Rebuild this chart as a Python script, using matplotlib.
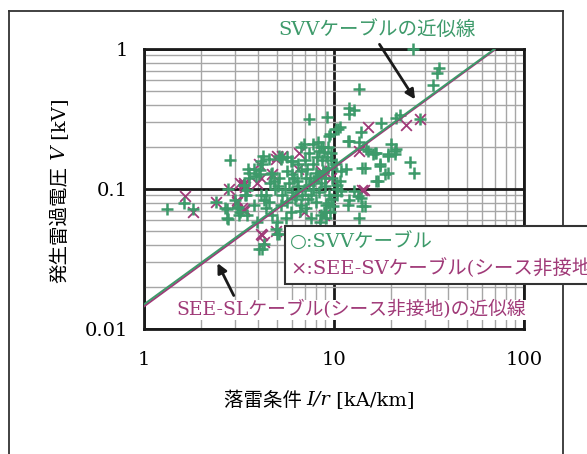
"""
Lightning overvoltage vs. lightning condition I/r (log-log scatter)
"""

import matplotlib as mpl
mpl.use('Agg')
import matplotlib.pyplot as plt
from matplotlib.lines import Line2D
from matplotlib.patches import Rectangle

# colours
green = "#3d9a6a"
magenta = "#a03a78"

# SVV cable points (I/r [kA/km], V [kV])
svv_x = [26, 35.6, 34.7, 33.3, 13.5, 12.0, 12.8, 12.0, 7.4, 9.2, 10.7, 9.5, 13.8, 17.7,
         21.3, 22.2, 28.3, 12.0, 20.0, 21.3, 20.9, 19.3, 15.1, 16.7, 25.0, 26.4, 14.5, 17.4,
         18.5, 19.3, 17.0, 2.83, 1.32,
         1.63, 1.80, 2.77, 2.40, 2.72, 2.77, 3.13, 3.15, 3.22, 3.38, 3.49, 3.46, 3.95, 4.03,
         3.52, 3.87, 4.03, 4.11, 4.25, 4.08, 4.55, 4.74, 5.25, 5.69, 6.04, 6.43, 6.69, 6.96,
         7.40, 8.20, 8.36, 8.71, 10.5, 3.56, 3.35, 3.42,
         4.19, 3.79, 3.56, 5.13, 5.35, 5.93, 7.71, 8.53, 9.44, 10.2, 11.8,
         4.64, 4.83, 5.13, 5.69, 6.16, 6.69, 7.11, 7.40, 7.87, 8.2, 8.71, 9.27, 10.2, 10.4,
         10.9, 11.5,
         2.68, 2.74, 3.03, 3.09, 3.49, 3.79, 4.11, 4.27, 4.36, 4.55, 4.74, 5.04, 5.25, 5.69,
         5.93, 6.3, 6.69, 7.11, 7.56, 8.03, 8.53, 8.86, 9.27,
         4.27, 4.93, 5.13, 4.19, 5.04,
         13.6, 14.8, 16.0, 16.4, 20.9, 19.3, 14.1, 17.4, 16.7, 10.9, 10.7, 12.0, 12.8, 13.3,
         14.1, 13.6, 9.1, 9.1, 11.8, 14.5, 13.9, 10.4, 10.4,
         5.5, 6.0, 6.5, 7.0, 7.5, 8.0, 8.5, 9.0, 5.8, 6.2, 6.8, 7.3, 7.8, 8.3, 9.0, 9.4,
         5.3, 4.9, 5.1, 6.0, 6.4, 7.2, 7.8, 8.6, 9.2, 9.6, 8.9, 9.3, 8.1, 7.0, 9.6, 9.8, 9.8,
         9.7, 9.9, 9.5, 6.6, 7.6, 8.4, 5.6, 4.4, 4.6]
svv_y = [1.0, 0.73, 0.67, 0.55, 0.52, 0.376, 0.366, 0.345, 0.315, 0.327, 0.277, 0.247, 0.255, 0.296,
         0.32, 0.336, 0.318, 0.222, 0.21, 0.193, 0.177, 0.177, 0.188, 0.18, 0.157, 0.13, 0.142, 0.15,
         0.127, 0.13, 0.114, 0.16, 0.072,
         0.080, 0.072, 0.1, 0.081, 0.0716, 0.061, 0.074, 0.065, 0.069, 0.107, 0.099, 0.091, 0.058, 0.037,
         0.14, 0.124, 0.129, 0.159, 0.173, 0.136, 0.163, 0.13, 0.163, 0.168, 0.159, 0.15, 0.198, 0.21,
         0.182, 0.216, 0.188, 0.198, 0.269, 0.12, 0.107, 0.091,
         0.15, 0.138, 0.13, 0.173, 0.168, 0.159, 0.21, 0.198, 0.241, 0.269, 0.222,
         0.127, 0.114, 0.12, 0.134, 0.12, 0.134, 0.12, 0.107, 0.114, 0.124, 0.134, 0.142, 0.15, 0.1,
         0.096, 0.138,
         0.0728, 0.0616, 0.0836, 0.0728, 0.065, 0.077, 0.091, 0.0836, 0.0728, 0.081, 0.065, 0.058, 0.077, 0.081,
         0.069, 0.089, 0.077, 0.0728, 0.091, 0.081, 0.065, 0.069, 0.079,
         0.0407, 0.052, 0.048, 0.037, 0.048,
         0.216, 0.193, 0.177, 0.182, 0.188, 0.173, 0.142, 0.146, 0.115, 0.134, 0.114, 0.0836, 0.096, 0.089,
         0.075, 0.0616, 0.077, 0.0616, 0.077, 0.075, 0.086, 0.107, 0.091,
         0.1, 0.095, 0.105, 0.098, 0.12, 0.13, 0.11, 0.12, 0.11, 0.085, 0.09, 0.085, 0.1, 0.095, 0.105, 0.09,
         0.09, 0.1, 0.105, 0.128, 0.115, 0.14, 0.15, 0.16, 0.17, 0.18, 0.185, 0.2, 0.17, 0.16, 0.16, 0.14, 0.12,
         0.085, 0.075, 0.068, 0.07, 0.062, 0.058, 0.062, 0.09, 0.11]

# SEE-SV cable, sheath not grounded
see_x = [15.1, 24.0, 28.3, 13.6, 14.3, 1.65, 1.80, 2.79, 2.40, 3.09, 3.35, 3.38, 3.42, 3.35,
         3.28, 3.95, 4.11, 4.74, 4.93, 5.35, 6.43, 8.53, 8.86, 6.96, 6.56, 4.11, 4.19, 4.27,
         4.97, 14.1, 8.53, 9.6, 5.04, 4.03, 3.22, 3.09, 3.35]
see_y = [0.277, 0.285, 0.318, 0.188, 0.099, 0.089, 0.069, 0.1, 0.081, 0.081, 0.0716, 0.107, 0.104, 0.11,
         0.073, 0.11, 0.12, 0.127, 0.163, 0.173, 0.138, 0.127, 0.065, 0.069, 0.182, 0.048, 0.0467, 0.042,
         0.05, 0.099, 0.134, 0.12, 0.173, 0.15, 0.11, 0.0836, 0.07]

# approximation lines (end points)
fit_x = [1, 70]
svv_fit_y = [0.0150, 1.0]
see_fit_y = [0.0145, 0.985]

W, H = 587, 454
serif = 'DejaVu Serif'
jp = ['DejaVu Serif', 'Noto Sans CJK JP']
mpl.rcParams['font.family'] = jp


def fx(px):
    return px / float(W)


def fy(py):
    return 1 - py / float(H)


fig = plt.figure(figsize=(W / 100., H / 100.), dpi=100, facecolor='w')
ax = fig.add_axes([fx(144), fy(329), fx(524) - fx(144), fy(49) - fy(329)])
ax.set_xscale('log')
ax.set_yscale('log')
ax.set_xlim(1, 100)
ax.set_ylim(0.01, 1)

ax.grid(which='minor', color='#a6a6a6', lw=1.0)
ax.grid(which='major', color='#1a1a1a', lw=2.0)
ax.set_axisbelow(True)
for s in ax.spines.values():
    s.set_linewidth(2.0)
    s.set_color('#1a1a1a')

ax.tick_params(which='both', length=0)
ax.tick_params(axis='y', pad=11.5, labelsize=14)
ax.tick_params(axis='x', pad=16, labelsize=14)
ax.set_xticks([1, 10, 100])
ax.set_xticklabels(['1', '10', '100'], family=serif)
ax.set_yticks([0.01, 0.1, 1])
ax.set_yticklabels(['0.01', '0.1', '1'], family=serif)
ax.xaxis.set_minor_formatter(mpl.ticker.NullFormatter())
ax.yaxis.set_minor_formatter(mpl.ticker.NullFormatter())

ax.scatter(see_x, see_y, marker='x', s=60, color=magenta, linewidths=1.3, zorder=3,
           clip_on=False)
ax.scatter(svv_x, svv_y, marker='+', s=85, color=green, linewidths=1.8, zorder=4,
           clip_on=False)
ax.plot(fit_x, see_fit_y, color=magenta, lw=1.4, zorder=5)
ax.plot(fit_x, svv_fit_y, color=green, lw=1.4, zorder=5)

# labels of the approximation lines
fig.text(fx(377), fy(30), "SVVケーブルの近似線", color=green, fontsize=14,
         ha='center', va='center')
ax.annotate("", xy=(27.2, 0.42), xycoords='data',
            xytext=(fx(378), fy(42)), textcoords='figure fraction',
            arrowprops=dict(arrowstyle='-|>', color='#1a1a1a', lw=2, mutation_scale=14))

fig.text(fx(351), fy(310), "SEE-SLケーブル(シース非接地)の近似線", color=magenta, fontsize=13.5,
         ha='center', va='center', zorder=6,
         bbox=dict(facecolor='w', edgecolor='none', pad=0.5))
ax.annotate("", xy=(2.40, 0.0308), xycoords='data',
            xytext=(fx(235), fy(298)), textcoords='figure fraction',
            arrowprops=dict(arrowstyle='-|>', color='#1a1a1a', lw=2, mutation_scale=14))

# legend box, running past the right edge
fig.add_artist(Rectangle((fx(285), fy(284)), fx(330), fy(226) - fy(284),
                         transform=fig.transFigure, facecolor='w', edgecolor='#333333',
                         lw=1.5, zorder=8))
fig.text(fx(290), fy(242), "○:SVVケーブル", color=green, fontsize=14,
         ha='left', va='center', zorder=9)
fig.text(fx(290), fy(268), "×:SEE-SVケーブル(シース非接地)", color=magenta, fontsize=14,
         ha='left', va='center', zorder=9)

# outer frame
frame = dict(color='#333333', lw=1.3, transform=fig.transFigure)
fig.add_artist(Line2D([fx(9), fx(9)], [fy(11), 0], **frame))
fig.add_artist(Line2D([fx(9), fx(563)], [fy(11), fy(11)], **frame))
fig.add_artist(Line2D([fx(563), fx(563)], [fy(11), 0], **frame))

# y label: 発生雷過電圧 V [kV]
t1 = fig.text(fx(60), fy(283), "発生雷過電圧", fontsize=14, rotation=90,
              ha='center', va='bottom', family=['Noto Sans CJK JP'])
t2 = ax.annotate(" V", xy=(0.5, 1), xycoords=t1, fontsize=14, rotation=90,
                 ha='center', va='bottom', style='italic', family=serif)
ax.annotate(" [kV]", xy=(0.5, 1), xycoords=t2, fontsize=14, rotation=90,
            ha='center', va='bottom', family=serif)

# x label: 落雷条件 I/r [kA/km]
s1 = fig.text(fx(224), fy(400), "落雷条件 ", fontsize=14, ha='left', va='center',
              family=['Noto Sans CJK JP'])
s2 = ax.annotate("I/r", xy=(1, 0.5), xycoords=s1, fontsize=14, ha='left', va='center',
                 style='italic', family=serif)
ax.annotate(" [kA/km]", xy=(1, 0.5), xycoords=s2, fontsize=14, ha='left', va='center',
            family=serif)

plt.savefig("out.png", dpi=100)
